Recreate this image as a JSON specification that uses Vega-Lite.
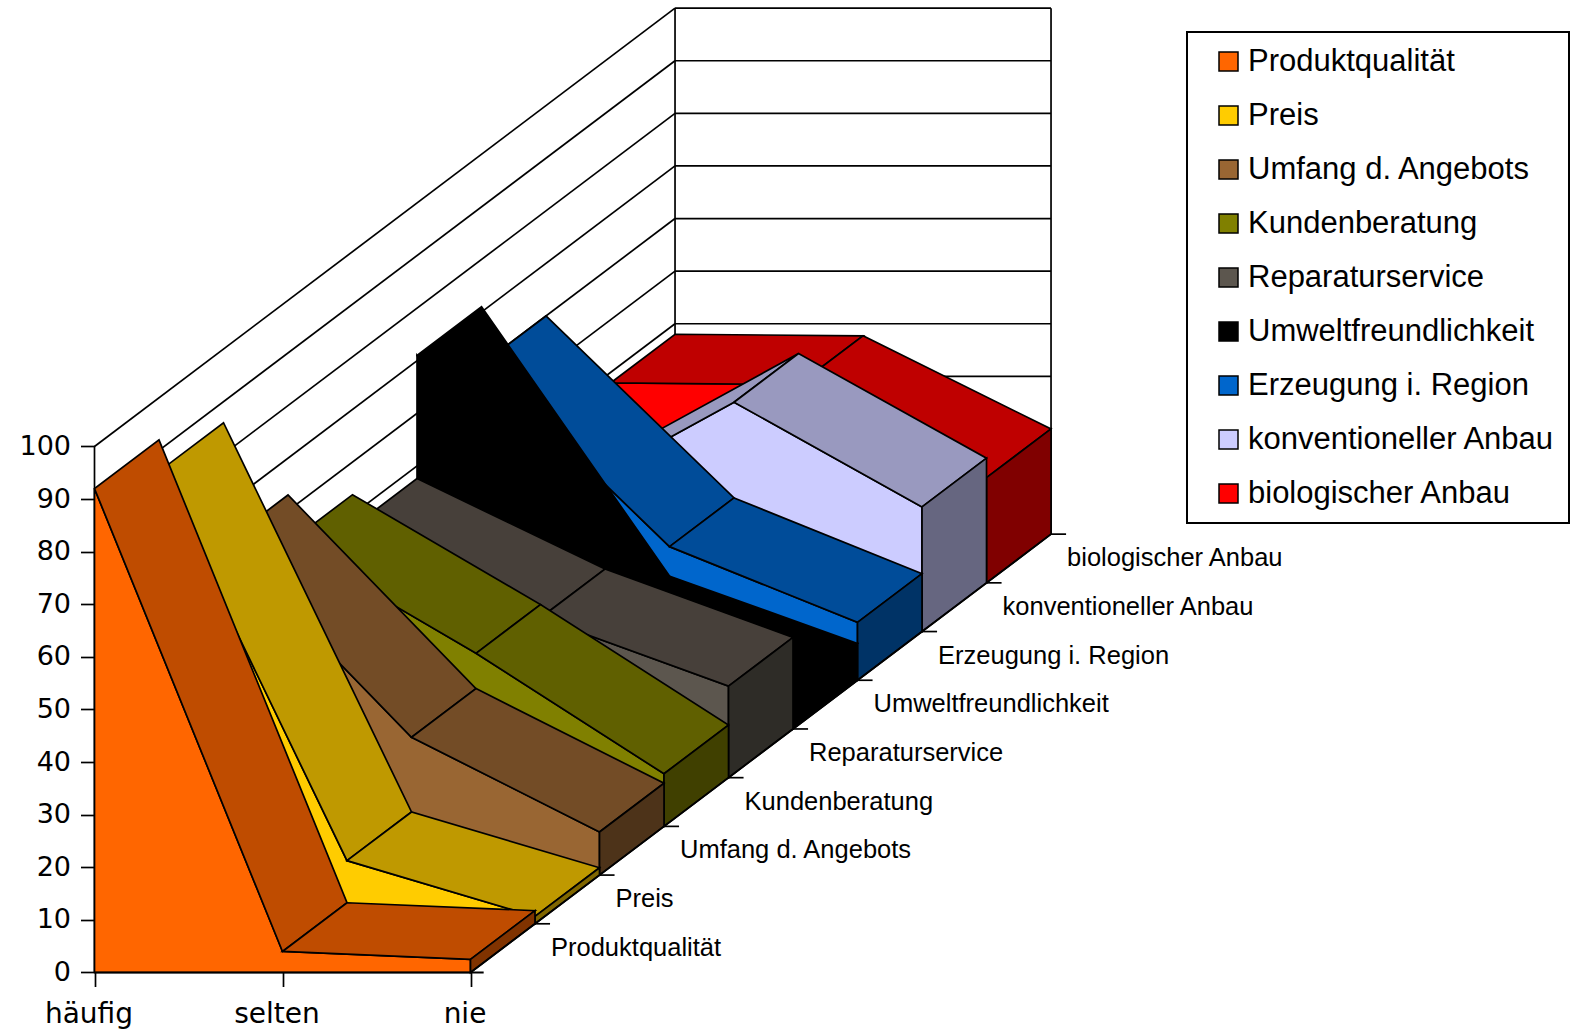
{"$schema":"https://vega.github.io/schema/vega-lite/v6.json","width":1577,"height":1033,"padding":0,"autosize":{"type":"none"},"background":"white","config":{"view":{"stroke":null},"legend":{"strokeWidth":2}},
"encoding":{"x":{"field":"X","type":"quantitative","scale":{"domain":[-0.50266,7.8856],"nice":false,"zero":false},"axis":{"values":[0,1,2],"title":null,"orient":"bottom","offset":-60.5,"grid":false,"domain":false,"tickColor":"black","tickWidth":1.7,"tickSize":14,"labelFont":"DejaVu Sans","labelFontSize":28,"labelColor":"black","labelPadding":14,"labelOffset":-6,"labelExpr":"datum.value==0?'häufig':datum.value==1?'selten':datum.value==2?'nie':''"}},
"y":{"field":"Y","type":"quantitative","scale":{"domain":[-11.502,184.886],"nice":false,"zero":false},"axis":{"values":[0,10,20,30,40,50,60,70,80,90,100],"title":null,"orient":"left","offset":-94.5,"grid":false,"domain":false,"tickColor":"black","tickWidth":1.7,"tickSize":14,"labelFont":"DejaVu Sans","labelFontSize":27,"labelColor":"black","labelPadding":10}}},
"datasets":{"grid":[{"g":0},{"g":10},{"g":20},{"g":30},{"g":40},{"g":50},{"g":60},{"g":70},{"g":80},{"g":90},{"g":100}],
"walls":[{"c":0,"d":0},{"c":0,"d":9},{"c":2,"d":9}],
"series":[{"series":"Produktqualität","d":1},{"series":"Preis","d":2},{"series":"Umfang d. Angebots","d":3},{"series":"Kundenberatung","d":4},{"series":"Reparaturservice","d":5},{"series":"Umweltfreundlichkeit","d":6},{"series":"Erzeugung i. Region","d":7},{"series":"konventioneller Anbau","d":8},{"series":"biologischer Anbau","d":9}],
"faces":[
{"series":"biologischer Anbau","face":"front","c":0,"d":8,"v":0,"i":0},{"series":"biologischer Anbau","face":"front","c":0,"d":8,"v":38,"i":1},{"series":"biologischer Anbau","face":"front","c":1,"d":8,"v":37.7,"i":2},{"series":"biologischer Anbau","face":"front","c":2,"d":8,"v":20,"i":3},{"series":"biologischer Anbau","face":"front","c":2,"d":8,"v":0,"i":4},
{"series":"biologischer Anbau","face":"top1","c":0,"d":8,"v":38,"i":0},{"series":"biologischer Anbau","face":"top1","c":1,"d":8,"v":37.7,"i":1},{"series":"biologischer Anbau","face":"top1","c":1,"d":9,"v":37.7,"i":2},{"series":"biologischer Anbau","face":"top1","c":0,"d":9,"v":38,"i":3},
{"series":"biologischer Anbau","face":"top2","c":1,"d":8,"v":37.7,"i":0},{"series":"biologischer Anbau","face":"top2","c":2,"d":8,"v":20,"i":1},{"series":"biologischer Anbau","face":"top2","c":2,"d":9,"v":20,"i":2},{"series":"biologischer Anbau","face":"top2","c":1,"d":9,"v":37.7,"i":3},
{"series":"biologischer Anbau","face":"side","c":2,"d":8,"v":0,"i":0},{"series":"biologischer Anbau","face":"side","c":2,"d":8,"v":20,"i":1},{"series":"biologischer Anbau","face":"side","c":2,"d":9,"v":20,"i":2},{"series":"biologischer Anbau","face":"side","c":2,"d":9,"v":0,"i":3},
{"series":"konventioneller Anbau","face":"front","c":0,"d":7,"v":0,"i":0},{"series":"konventioneller Anbau","face":"front","c":0,"d":7,"v":24,"i":1},{"series":"konventioneller Anbau","face":"front","c":1,"d":7,"v":43.6,"i":2},{"series":"konventioneller Anbau","face":"front","c":2,"d":7,"v":23.7,"i":3},{"series":"konventioneller Anbau","face":"front","c":2,"d":7,"v":0,"i":4},
{"series":"konventioneller Anbau","face":"top1","c":0,"d":7,"v":24,"i":0},{"series":"konventioneller Anbau","face":"top1","c":1,"d":7,"v":43.6,"i":1},{"series":"konventioneller Anbau","face":"top1","c":1,"d":8,"v":43.6,"i":2},{"series":"konventioneller Anbau","face":"top1","c":0,"d":8,"v":24,"i":3},
{"series":"konventioneller Anbau","face":"top2","c":1,"d":7,"v":43.6,"i":0},{"series":"konventioneller Anbau","face":"top2","c":2,"d":7,"v":23.7,"i":1},{"series":"konventioneller Anbau","face":"top2","c":2,"d":8,"v":23.7,"i":2},{"series":"konventioneller Anbau","face":"top2","c":1,"d":8,"v":43.6,"i":3},
{"series":"konventioneller Anbau","face":"side","c":2,"d":7,"v":0,"i":0},{"series":"konventioneller Anbau","face":"side","c":2,"d":7,"v":23.7,"i":1},{"series":"konventioneller Anbau","face":"side","c":2,"d":8,"v":23.7,"i":2},{"series":"konventioneller Anbau","face":"side","c":2,"d":8,"v":0,"i":3},
{"series":"Erzeugung i. Region","face":"front","c":0,"d":6,"v":0,"i":0},{"series":"Erzeugung i. Region","face":"front","c":0,"d":6,"v":60,"i":1},{"series":"Erzeugung i. Region","face":"front","c":1,"d":6,"v":25.4,"i":2},{"series":"Erzeugung i. Region","face":"front","c":2,"d":6,"v":11,"i":3},{"series":"Erzeugung i. Region","face":"front","c":2,"d":6,"v":0,"i":4},
{"series":"Erzeugung i. Region","face":"top1","c":0,"d":6,"v":60,"i":0},{"series":"Erzeugung i. Region","face":"top1","c":1,"d":6,"v":25.4,"i":1},{"series":"Erzeugung i. Region","face":"top1","c":1,"d":7,"v":25.4,"i":2},{"series":"Erzeugung i. Region","face":"top1","c":0,"d":7,"v":60,"i":3},
{"series":"Erzeugung i. Region","face":"top2","c":1,"d":6,"v":25.4,"i":0},{"series":"Erzeugung i. Region","face":"top2","c":2,"d":6,"v":11,"i":1},{"series":"Erzeugung i. Region","face":"top2","c":2,"d":7,"v":11,"i":2},{"series":"Erzeugung i. Region","face":"top2","c":1,"d":7,"v":25.4,"i":3},
{"series":"Erzeugung i. Region","face":"side","c":2,"d":6,"v":0,"i":0},{"series":"Erzeugung i. Region","face":"side","c":2,"d":6,"v":11,"i":1},{"series":"Erzeugung i. Region","face":"side","c":2,"d":7,"v":11,"i":2},{"series":"Erzeugung i. Region","face":"side","c":2,"d":7,"v":0,"i":3},
{"series":"Umweltfreundlichkeit","face":"front","c":0,"d":5,"v":0,"i":0},{"series":"Umweltfreundlichkeit","face":"front","c":0,"d":5,"v":71,"i":1},{"series":"Umweltfreundlichkeit","face":"front","c":1,"d":5,"v":19.8,"i":2},{"series":"Umweltfreundlichkeit","face":"front","c":2,"d":5,"v":7,"i":3},{"series":"Umweltfreundlichkeit","face":"front","c":2,"d":5,"v":0,"i":4},
{"series":"Umweltfreundlichkeit","face":"top1","c":0,"d":5,"v":71,"i":0},{"series":"Umweltfreundlichkeit","face":"top1","c":1,"d":5,"v":19.8,"i":1},{"series":"Umweltfreundlichkeit","face":"top1","c":1,"d":6,"v":19.8,"i":2},{"series":"Umweltfreundlichkeit","face":"top1","c":0,"d":6,"v":71,"i":3},
{"series":"Umweltfreundlichkeit","face":"top2","c":1,"d":5,"v":19.8,"i":0},{"series":"Umweltfreundlichkeit","face":"top2","c":2,"d":5,"v":7,"i":1},{"series":"Umweltfreundlichkeit","face":"top2","c":2,"d":6,"v":7,"i":2},{"series":"Umweltfreundlichkeit","face":"top2","c":1,"d":6,"v":19.8,"i":3},
{"series":"Umweltfreundlichkeit","face":"side","c":2,"d":5,"v":0,"i":0},{"series":"Umweltfreundlichkeit","face":"side","c":2,"d":5,"v":7,"i":1},{"series":"Umweltfreundlichkeit","face":"side","c":2,"d":6,"v":7,"i":2},{"series":"Umweltfreundlichkeit","face":"side","c":2,"d":6,"v":0,"i":3},
{"series":"Reparaturservice","face":"front","c":0,"d":4,"v":0,"i":0},{"series":"Reparaturservice","face":"front","c":0,"d":4,"v":47.6,"i":1},{"series":"Reparaturservice","face":"front","c":1,"d":4,"v":30.4,"i":2},{"series":"Reparaturservice","face":"front","c":2,"d":4,"v":17.4,"i":3},{"series":"Reparaturservice","face":"front","c":2,"d":4,"v":0,"i":4},
{"series":"Reparaturservice","face":"top1","c":0,"d":4,"v":47.6,"i":0},{"series":"Reparaturservice","face":"top1","c":1,"d":4,"v":30.4,"i":1},{"series":"Reparaturservice","face":"top1","c":1,"d":5,"v":30.4,"i":2},{"series":"Reparaturservice","face":"top1","c":0,"d":5,"v":47.6,"i":3},
{"series":"Reparaturservice","face":"top2","c":1,"d":4,"v":30.4,"i":0},{"series":"Reparaturservice","face":"top2","c":2,"d":4,"v":17.4,"i":1},{"series":"Reparaturservice","face":"top2","c":2,"d":5,"v":17.4,"i":2},{"series":"Reparaturservice","face":"top2","c":1,"d":5,"v":30.4,"i":3},
{"series":"Reparaturservice","face":"side","c":2,"d":4,"v":0,"i":0},{"series":"Reparaturservice","face":"side","c":2,"d":4,"v":17.4,"i":1},{"series":"Reparaturservice","face":"side","c":2,"d":5,"v":17.4,"i":2},{"series":"Reparaturservice","face":"side","c":2,"d":5,"v":0,"i":3},
{"series":"Kundenberatung","face":"front","c":0,"d":3,"v":0,"i":0},{"series":"Kundenberatung","face":"front","c":0,"d":3,"v":53.8,"i":1},{"series":"Kundenberatung","face":"front","c":1,"d":3,"v":32.9,"i":2},{"series":"Kundenberatung","face":"front","c":2,"d":3,"v":10,"i":3},{"series":"Kundenberatung","face":"front","c":2,"d":3,"v":0,"i":4},
{"series":"Kundenberatung","face":"top1","c":0,"d":3,"v":53.8,"i":0},{"series":"Kundenberatung","face":"top1","c":1,"d":3,"v":32.9,"i":1},{"series":"Kundenberatung","face":"top1","c":1,"d":4,"v":32.9,"i":2},{"series":"Kundenberatung","face":"top1","c":0,"d":4,"v":53.8,"i":3},
{"series":"Kundenberatung","face":"top2","c":1,"d":3,"v":32.9,"i":0},{"series":"Kundenberatung","face":"top2","c":2,"d":3,"v":10,"i":1},{"series":"Kundenberatung","face":"top2","c":2,"d":4,"v":10,"i":2},{"series":"Kundenberatung","face":"top2","c":1,"d":4,"v":32.9,"i":3},
{"series":"Kundenberatung","face":"side","c":2,"d":3,"v":0,"i":0},{"series":"Kundenberatung","face":"side","c":2,"d":3,"v":10,"i":1},{"series":"Kundenberatung","face":"side","c":2,"d":4,"v":10,"i":2},{"series":"Kundenberatung","face":"side","c":2,"d":4,"v":0,"i":3},
{"series":"Umfang d. Angebots","face":"front","c":0,"d":2,"v":0,"i":0},{"series":"Umfang d. Angebots","face":"front","c":0,"d":2,"v":63,"i":1},{"series":"Umfang d. Angebots","face":"front","c":1,"d":2,"v":26.2,"i":2},{"series":"Umfang d. Angebots","face":"front","c":2,"d":2,"v":8.2,"i":3},{"series":"Umfang d. Angebots","face":"front","c":2,"d":2,"v":0,"i":4},
{"series":"Umfang d. Angebots","face":"top1","c":0,"d":2,"v":63,"i":0},{"series":"Umfang d. Angebots","face":"top1","c":1,"d":2,"v":26.2,"i":1},{"series":"Umfang d. Angebots","face":"top1","c":1,"d":3,"v":26.2,"i":2},{"series":"Umfang d. Angebots","face":"top1","c":0,"d":3,"v":63,"i":3},
{"series":"Umfang d. Angebots","face":"top2","c":1,"d":2,"v":26.2,"i":0},{"series":"Umfang d. Angebots","face":"top2","c":2,"d":2,"v":8.2,"i":1},{"series":"Umfang d. Angebots","face":"top2","c":2,"d":3,"v":8.2,"i":2},{"series":"Umfang d. Angebots","face":"top2","c":1,"d":3,"v":26.2,"i":3},
{"series":"Umfang d. Angebots","face":"side","c":2,"d":2,"v":0,"i":0},{"series":"Umfang d. Angebots","face":"side","c":2,"d":2,"v":8.2,"i":1},{"series":"Umfang d. Angebots","face":"side","c":2,"d":3,"v":8.2,"i":2},{"series":"Umfang d. Angebots","face":"side","c":2,"d":3,"v":0,"i":3},
{"series":"Preis","face":"front","c":0,"d":1,"v":0,"i":0},{"series":"Preis","face":"front","c":0,"d":1,"v":86,"i":1},{"series":"Preis","face":"front","c":1,"d":1,"v":12,"i":2},{"series":"Preis","face":"front","c":2,"d":1,"v":1.4,"i":3},{"series":"Preis","face":"front","c":2,"d":1,"v":0,"i":4},
{"series":"Preis","face":"top1","c":0,"d":1,"v":86,"i":0},{"series":"Preis","face":"top1","c":1,"d":1,"v":12,"i":1},{"series":"Preis","face":"top1","c":1,"d":2,"v":12,"i":2},{"series":"Preis","face":"top1","c":0,"d":2,"v":86,"i":3},
{"series":"Preis","face":"top2","c":1,"d":1,"v":12,"i":0},{"series":"Preis","face":"top2","c":2,"d":1,"v":1.4,"i":1},{"series":"Preis","face":"top2","c":2,"d":2,"v":1.4,"i":2},{"series":"Preis","face":"top2","c":1,"d":2,"v":12,"i":3},
{"series":"Preis","face":"side","c":2,"d":1,"v":0,"i":0},{"series":"Preis","face":"side","c":2,"d":1,"v":1.4,"i":1},{"series":"Preis","face":"side","c":2,"d":2,"v":1.4,"i":2},{"series":"Preis","face":"side","c":2,"d":2,"v":0,"i":3},
{"series":"Produktqualität","face":"front","c":0,"d":0,"v":0,"i":0},{"series":"Produktqualität","face":"front","c":0,"d":0,"v":92,"i":1},{"series":"Produktqualität","face":"front","c":1,"d":0,"v":4,"i":2},{"series":"Produktqualität","face":"front","c":2,"d":0,"v":2.5,"i":3},{"series":"Produktqualität","face":"front","c":2,"d":0,"v":0,"i":4},
{"series":"Produktqualität","face":"top1","c":0,"d":0,"v":92,"i":0},{"series":"Produktqualität","face":"top1","c":1,"d":0,"v":4,"i":1},{"series":"Produktqualität","face":"top1","c":1,"d":1,"v":4,"i":2},{"series":"Produktqualität","face":"top1","c":0,"d":1,"v":92,"i":3},
{"series":"Produktqualität","face":"top2","c":1,"d":0,"v":4,"i":0},{"series":"Produktqualität","face":"top2","c":2,"d":0,"v":2.5,"i":1},{"series":"Produktqualität","face":"top2","c":2,"d":1,"v":2.5,"i":2},{"series":"Produktqualität","face":"top2","c":1,"d":1,"v":4,"i":3},
{"series":"Produktqualität","face":"side","c":2,"d":0,"v":0,"i":0},{"series":"Produktqualität","face":"side","c":2,"d":0,"v":2.5,"i":1},{"series":"Produktqualität","face":"side","c":2,"d":1,"v":2.5,"i":2},{"series":"Produktqualität","face":"side","c":2,"d":1,"v":0,"i":3}
]},
"layer":[
{"data":{"name":"grid"},"transform":[{"calculate":"0.3431*9","as":"X2"},{"calculate":"datum.g+9.26*9","as":"Y2"},{"calculate":"0","as":"X"},{"calculate":"datum.g","as":"Y"}],
"mark":{"type":"rule","color":"black","strokeWidth":1.7},
"encoding":{"x2":{"field":"X2"},"y2":{"field":"Y2"}}},
{"data":{"name":"grid"},"transform":[{"calculate":"0.3431*9","as":"X"},{"calculate":"2+0.3431*9","as":"X2"},{"calculate":"datum.g+9.26*9","as":"Y"}],
"mark":{"type":"rule","color":"black","strokeWidth":1.7},
"encoding":{"x2":{"field":"X2"}}},
{"data":{"name":"walls"},"transform":[{"calculate":"datum.c+datum.d*0.3431","as":"X"},{"calculate":"datum.d*9.26","as":"Y"},{"calculate":"100+datum.d*9.26","as":"Y2"}],
"mark":{"type":"rule","color":"black","strokeWidth":1.7},
"encoding":{"y2":{"field":"Y2"}}},
{"data":{"name":"faces"},"transform":[{"calculate":"datum.c+datum.d*0.3431","as":"X"},{"calculate":"datum.v+datum.d*9.26","as":"Y"},{"calculate":"datum.series+'|'+(indexof(datum.face,'top')==0?'top':datum.face)","as":"shade"},{"calculate":"datum.series+'|'+datum.face","as":"poly"}],
"mark":{"type":"line","interpolate":"linear-closed","stroke":"black","strokeWidth":1.7,"strokeJoin":"miter"},
"encoding":{"order":{"field":"i"},"detail":{"field":"poly"},
"fill":{"field":"shade","type":"nominal","legend":null,"scale":{"domain":["Produktqualität|front","Produktqualität|top","Produktqualität|side","Preis|front","Preis|top","Preis|side","Umfang d. Angebots|front","Umfang d. Angebots|top","Umfang d. Angebots|side","Kundenberatung|front","Kundenberatung|top","Kundenberatung|side","Reparaturservice|front","Reparaturservice|top","Reparaturservice|side","Umweltfreundlichkeit|front","Umweltfreundlichkeit|top","Umweltfreundlichkeit|side","Erzeugung i. Region|front","Erzeugung i. Region|top","Erzeugung i. Region|side","konventioneller Anbau|front","konventioneller Anbau|top","konventioneller Anbau|side","biologischer Anbau|front","biologischer Anbau|top","biologischer Anbau|side"],
"range":["#FF6600","#BF4C00","#803300","#FFCC00","#BF9900","#806600","#996633","#734C26","#4D3319","#808000","#606000","#404000","#5C564E","#47403A","#2E2C27","#000000","#000000","#000000","#0066CC","#004C99","#003366","#CCCCFF","#9999BF","#666680","#FF0000","#BF0000","#800000"]}}}},
{"data":{"name":"series"},"transform":[{"calculate":"2+0.3431*datum.d","as":"X"},{"calculate":"2+0.3431*datum.d+0.08","as":"X2"},{"calculate":"datum.d*9.26","as":"Y"}],
"mark":{"type":"rule","color":"black","strokeWidth":1.7},
"encoding":{"x2":{"field":"X2"}}},
{"data":{"name":"series"},"transform":[{"calculate":"2+0.3431*datum.d","as":"X"},{"calculate":"datum.d*9.26","as":"Y"}],
"mark":{"type":"text","align":"left","baseline":"middle","dx":16,"dy":24,"font":"Liberation Sans","fontSize":25.5,"color":"black"},
"encoding":{"text":{"field":"series"}}},
{"data":{"values":[{"X":0,"X2":2.07,"Y":0}]},
"mark":{"type":"rule","color":"black","strokeWidth":2},
"encoding":{"x2":{"field":"X2"}}},
{"data":{"values":[{"X":2,"Y":0,"X2":5.0879,"Y2":83.34}]},
"mark":{"type":"rule","color":"black","strokeWidth":1.7},
"encoding":{"x2":{"field":"X2"},"y2":{"field":"Y2"}}},
{"data":{"name":"series"},"transform":[{"calculate":"0","as":"X"},{"calculate":"0","as":"Y"},{"filter":"false"}],
"mark":{"type":"point","shape":"square","filled":true,"opacity":1},
"encoding":{"color":{"field":"series","type":"nominal","scale":{"domain":["Produktqualität","Preis","Umfang d. Angebots","Kundenberatung","Reparaturservice","Umweltfreundlichkeit","Erzeugung i. Region","konventioneller Anbau","biologischer Anbau"],"range":["#FF6600","#FFCC00","#996633","#808000","#5C564E","#000000","#0066CC","#CCCCFF","#FF0000"]},
"legend":{"title":null,"orient":"none","legendX":1187,"legendY":32,"padding":14,"symbolOffset":12,"symbolType":"square","symbolSize":361,"symbolOpacity":1,"symbolStrokeColor":"black","symbolStrokeWidth":1.5,"labelFont":"Liberation Sans","labelFontSize":31,"labelColor":"black","labelLimit":500,"labelOffset":4,"rowPadding":22,"strokeColor":"black","fillColor":"white","labelExpr":"datum.label+' '"}}}}
]}
